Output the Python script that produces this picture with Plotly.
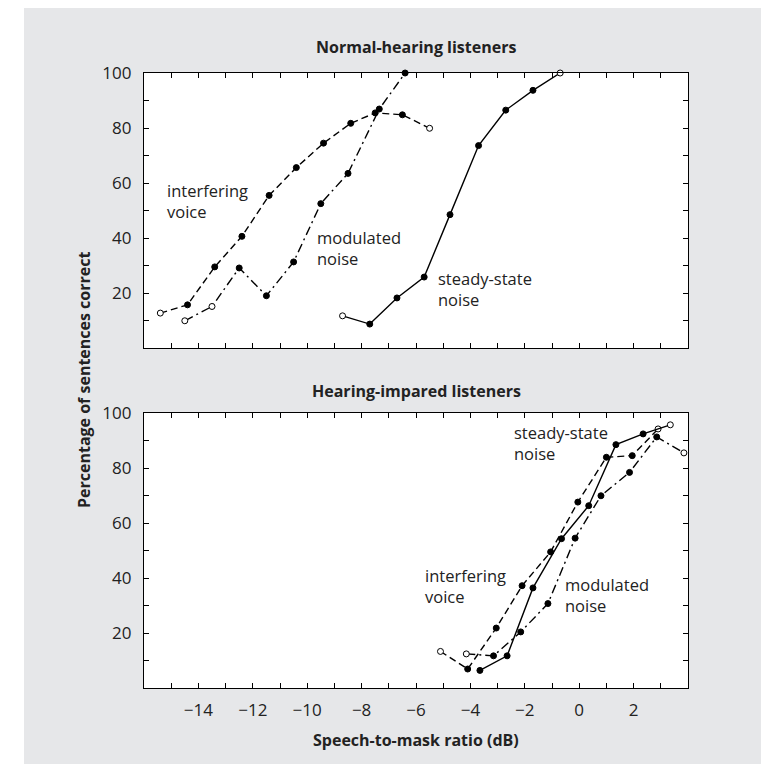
import plotly.graph_objects as go

# ---------------- data ----------------
# Top panel: normal-hearing listeners
nh_voice_x = [-15.4, -14.4, -13.4, -12.4, -11.4, -10.4, -9.4, -8.4, -7.5, -6.5, -5.5]
nh_voice_y = [12.7, 15.7, 29.5, 40.6, 55.5, 65.6, 74.5, 81.7, 85.5, 84.8, 79.9]
nh_mod_x = [-14.5, -13.5, -12.5, -11.5, -10.5, -9.5, -8.5, -7.35, -6.4]
nh_mod_y = [9.9, 15.1, 29.1, 19.0, 31.3, 52.5, 63.5, 86.9, 100]
nh_steady_x = [-8.7, -7.7, -6.7, -5.7, -4.75, -3.7, -2.7, -1.7, -0.7]
nh_steady_y = [11.7, 8.7, 18.2, 25.8, 48.5, 73.6, 86.5, 93.7, 100]

# Bottom panel: hearing-impaired listeners
hi_voice_x = [-5.1, -4.1, -3.05, -2.1, -1.05, -0.05, 1.0, 1.95, 2.9]
hi_voice_y = [13.3, 6.9, 21.8, 37.2, 49.5, 67.6, 83.9, 84.5, 94.2]
hi_steady_x = [-3.65, -2.65, -1.7, -0.65, 0.35, 1.35, 2.35, 3.35]
hi_steady_y = [6.4, 11.7, 36.4, 54.3, 66.3, 88.5, 92.4, 95.7]
hi_mod_x = [-4.15, -3.15, -2.15, -1.15, -0.15, 0.8, 1.85, 2.85, 3.85]
hi_mod_y = [12.4, 11.7, 20.4, 30.7, 54.5, 69.9, 78.4, 91.3, 85.5]

# which points are drawn as open circles (index lists)
nh_voice_open = [0, 10]
nh_mod_open = [0, 1]
nh_steady_open = [0, 8]
hi_voice_open = [0, 8]
hi_steady_open = [7]
hi_mod_open = [0, 8]

x_tickvals = list(range(-15, 4))
x_ticktext = [("\u2212" + str(-v) if v < 0 else str(v)) if v % 2 == 0 else "" for v in x_tickvals]
y_tickvals = list(range(10, 101, 10))
y_ticktext = [str(v) if v % 20 == 0 else "" for v in y_tickvals]

panel_titles = ["Normal-hearing listeners", "Hearing-impared listeners"]
x_title = "Speech-to-mask ratio (dB)"
y_title = "Percentage of sentences correct"

FONT = "Open Sans"
DASH = "7px,4px"
DASHDOT = "9px,4px,2px,4px"

fig = go.Figure()


def add_series(x, y, open_idx, dash, xa, ya):
    colors = ["white" if i in open_idx else "black" for i in range(len(x))]
    fig.add_trace(go.Scatter(
        x=x, y=y, mode="lines+markers", xaxis=xa, yaxis=ya,
        line=dict(color="black", width=1.4, dash=dash),
        marker=dict(size=6, color=colors, line=dict(color="black", width=1)),
        cliponaxis=False, showlegend=False, hoverinfo="x+y"))


add_series(nh_voice_x, nh_voice_y, nh_voice_open, DASH, "x", "y")
add_series(nh_mod_x, nh_mod_y, nh_mod_open, DASHDOT, "x", "y")
add_series(nh_steady_x, nh_steady_y, nh_steady_open, "solid", "x", "y")
add_series(hi_voice_x, hi_voice_y, hi_voice_open, DASH, "x2", "y2")
add_series(hi_mod_x, hi_mod_y, hi_mod_open, DASHDOT, "x2", "y2")
add_series(hi_steady_x, hi_steady_y, hi_steady_open, "solid", "x2", "y2")

W, H = 761, 764
L, R, T, B = 144, 73, 73, 76
pw, ph = W - L - R, H - T - B

def px2x(px):
    return (px - L) / pw

def py2y(py):
    return (H - B - py) / ph

top_dom = [py2y(348), 1.0]
bot_dom = [0.0, py2y(413)]

axis_common = dict(
    showline=True, linecolor="black", linewidth=1.3, mirror="allticks",
    ticks="inside", ticklen=5, tickwidth=1, tickcolor="black",
    showgrid=False, zeroline=False,
    tickfont=dict(family=FONT, size=17, color="#222"),
)

fig.update_layout(
    width=W, height=H,
    margin=dict(l=L, r=R, t=T, b=B),
    paper_bgcolor="white", plot_bgcolor="white",
    font=dict(family=FONT, color="#222"),
    xaxis=dict(range=[-16, 4], anchor="y", tickvals=x_tickvals,
               ticktext=["" for _ in x_tickvals], **axis_common),
    yaxis=dict(range=[0, 100], domain=top_dom, anchor="x", tickvals=y_tickvals,
               ticktext=y_ticktext, ticklabelstandoff=8, **axis_common),
    xaxis2=dict(range=[-16, 4], anchor="y2", matches="x", tickvals=x_tickvals,
                ticktext=x_ticktext, ticklabelstandoff=6, **axis_common),
    yaxis2=dict(range=[0, 100], domain=bot_dom, anchor="x2", tickvals=y_tickvals,
                ticktext=y_ticktext, ticklabelstandoff=8, **axis_common),
)

# grey card background, with white plot areas on top
shapes = [
    dict(type="rect", xref="paper", yref="paper", x0=px2x(24), x1=px2x(W + 5),
         y0=py2y(H + 5), y1=py2y(8), fillcolor="#e6e7e9", line=dict(width=0), layer="below"),
    dict(type="rect", xref="paper", yref="paper", x0=0, x1=1, y0=top_dom[0], y1=1,
         fillcolor="white", line=dict(width=0), layer="below"),
    dict(type="rect", xref="paper", yref="paper", x0=0, x1=1, y0=0, y1=bot_dom[1],
         fillcolor="white", line=dict(width=0), layer="below"),
]
fig.update_layout(shapes=shapes)

ann = []
ann.append(dict(text="<b>" + panel_titles[0] + "</b>", xref="paper", yref="paper",
                x=0.5, y=py2y(47), xanchor="center", yanchor="middle", showarrow=False,
                font=dict(family=FONT, size=16, color="#222")))
ann.append(dict(text="<b>" + panel_titles[1] + "</b>", xref="paper", yref="paper",
                x=0.5, y=py2y(391), xanchor="center", yanchor="middle", showarrow=False,
                font=dict(family=FONT, size=16, color="#222")))
ann.append(dict(text="<b>" + x_title + "</b>", xref="paper", yref="paper",
                x=0.5, y=py2y(740), xanchor="center", yanchor="middle", showarrow=False,
                font=dict(family=FONT, size=16, color="#222")))
ann.append(dict(text="<b>" + y_title + "</b>", xref="paper", yref="paper",
                x=px2x(84), y=py2y(380), xanchor="center", yanchor="middle", showarrow=False,
                textangle=-90, font=dict(family=FONT, size=16, color="#222")))

# in-plot series labels: (text, x, y, xref, yref)
labels = [
    ("interfering<br>voice", -15.23, 53.4, "x", "y"),
    ("modulated<br>noise", -9.71, 36.3, "x", "y"),
    ("steady-state<br>noise", -5.26, 21.4, "x", "y"),
    ("steady-state<br>noise", -2.48, 89.0, "x2", "y2"),
    ("interfering<br>voice", -5.75, 37.0, "x2", "y2"),
    ("modulated<br>noise", -0.58, 33.7, "x2", "y2"),
]
for t, xx, yy, xr, yr in labels:
    ann.append(dict(text=t, x=xx, y=yy, xref=xr, yref=yr, xanchor="left", yanchor="middle",
                    align="left", showarrow=False,
                    font=dict(family=FONT, size=16.5, color="#222")))
fig.update_layout(annotations=ann)

fig.write_html("out.html")
